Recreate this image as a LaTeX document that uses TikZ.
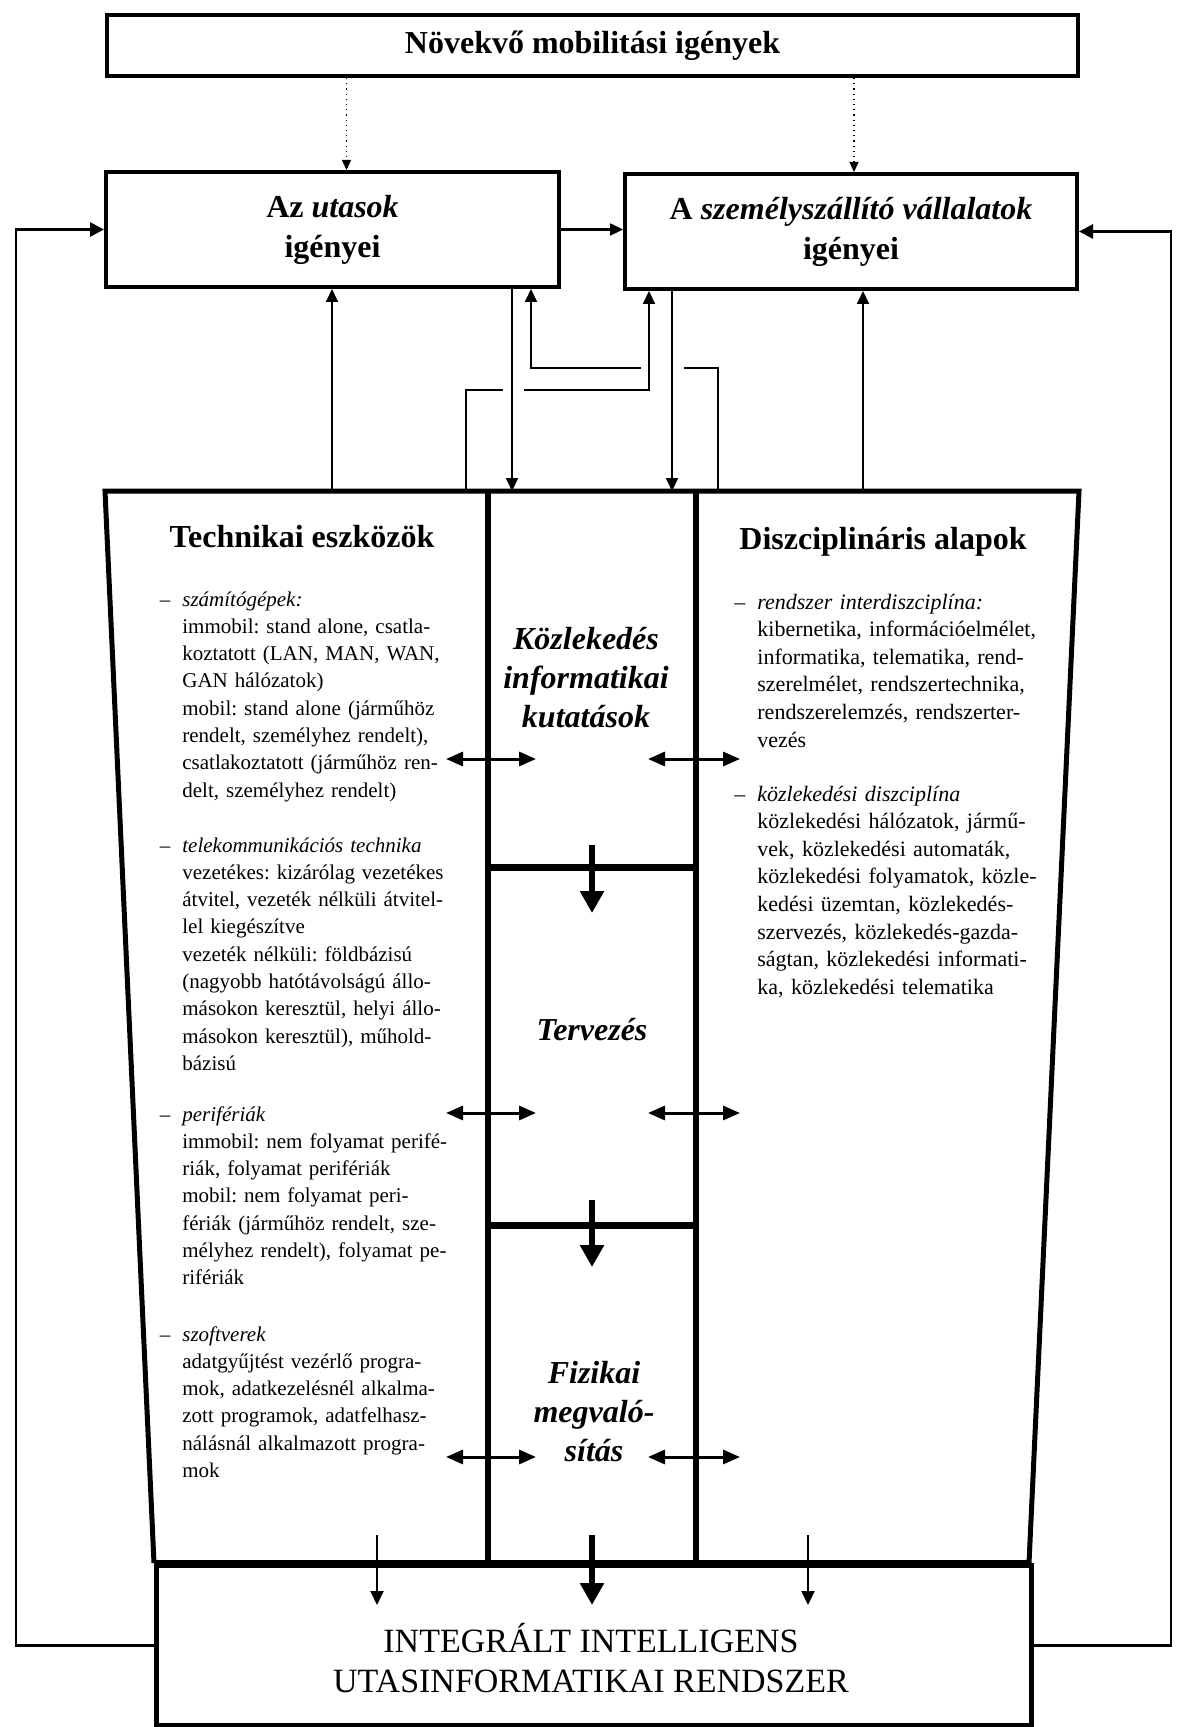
\documentclass[tikz,border=0pt]{standalone}
\usepackage{fontspec}
\setmainfont{Liberation Serif}
\usepackage{tikz}
\usetikzlibrary{arrows.meta,calc}
\frenchspacing

\newcommand{\jline}[1]{\makebox[\linewidth][s]{#1}\\}
\newcommand{\itemdash}{\leavevmode\llap{–\hspace{6pt}}}

\tikzset{
  box/.style={draw,line width=2pt,inner sep=0pt,align=center,font=\fontsize{16}{20}\selectfont\bfseries},
  conn/.style={line width=1pt},
  connarr/.style={line width=1pt,-{Triangle[length=6.5pt,width=6pt]}},
  dotarr/.style={line width=0.6pt,dotted,-{Triangle[length=5pt,width=4.5pt]}},
  fback/.style={line width=1.4pt,-{Triangle[length=7pt,width=7pt]}},
  dblarr/.style={line width=1.5pt,{Triangle[length=8.5pt,width=7pt]}-{Triangle[length=8.5pt,width=7pt]}},
  bigarr/.style={line width=3pt,-{Triangle[length=11pt,width=11.5pt]}},
  thinarr/.style={line width=1pt,-{Triangle[length=7pt,width=6.5pt]}},
  listtext/.style={anchor=base west,inner sep=0pt,align=left,font=\fontsize{10.5}{13.65}\selectfont},
  righttext/.style={listtext,font=\fontsize{11}{13.8}\selectfont},
  heading/.style={font=\fontsize{16}{20}\selectfont\bfseries},
  midtext/.style={align=center,font=\fontsize{16}{19.5}\selectfont\bfseries\itshape},
}

\begin{document}
\begin{tikzpicture}[x=0.5pt,y=-0.5pt]
\useasboundingbox (0,0) rectangle (1178,1727);

% demand boxes
\node[box,minimum width=485.5pt,minimum height=30.5pt,font=\fontsize{16}{19}\selectfont\bfseries] (mobil) at (592.5,45.5) {\raisebox{-1.5pt}{Növekvő mobilitási igények}};
\node[box,minimum width=226.5pt,minimum height=57.5pt] (utasok) at (332.5,229.5) {Az \textit{utasok}\\igényei};
\node[box,minimum width=226pt,minimum height=57.5pt] (vallalat) at (851,231.5) {A \textit{személyszállító vállalatok}\\igényei};

% main frame
\coordinate (tl) at (105,491);
\coordinate (tr) at (1079,491);
\coordinate (br) at (1029,1563);
\coordinate (bl) at (154,1563);
\draw[line width=2.5pt,line join=miter] (bl) -- (tl) -- (tr) -- (br);
\draw[line width=3pt] (488,491) -- (488,1563);
\draw[line width=3pt] (696,491) -- (696,1563);
\draw[line width=3.5pt] (488,867) -- (696,867);
\draw[line width=3.5pt] (488,1225) -- (696,1225);

% result box
\node[draw,line width=2.5pt,minimum width=437.5pt,minimum height=80pt,inner sep=0pt,anchor=north west] (rendszer) at (bl) {};
\draw[line width=3pt] (bl) -- (br);
\node[align=center,font=\fontsize{17}{20}\selectfont] (rendszertxt) at (591,1658) {INTEGRÁLT INTELLIGENS\\UTASINFORMATIKAI RENDSZER};

% headings
\node[heading] (techn) at (302,537) {Technikai eszközök};
\node[heading] (diszc) at (883,542) {Diszciplináris alapok};

% middle column
\node[midtext] (kutat) at (586,678) {Közlekedés\\informatikai\\kutatások};
\node[midtext] (terv) at (592,1030) {Tervezés};
\node[midtext] (fizik) at (594,1412) {Fizikai\\megvaló-\\sítás};

% left column
\node[listtext,text width=132pt] (szamit) at (182,606) {\itemdash\textit{számítógépek:}\\
\jline{immobil: stand alone, csatla-}
\jline{koztatott (LAN, MAN, WAN,}
GAN hálózatok)\\
\jline{mobil: stand alone (járműhöz}
\jline{rendelt, személyhez rendelt),}
\jline{csatlakoztatott (járműhöz ren-}
delt, személyhez rendelt)};
\node[listtext,text width=132pt] (telekom) at (182,852) {\itemdash\textit{telekommunikációs technika}\\
\jline{vezetékes: kizárólag vezetékes}
\jline{átvitel, vezeték nélküli átvitel-}
lel kiegészítve\\
\jline{vezeték nélküli: földbázisú}
\jline{(nagyobb hatótávolságú állo-}
\jline{másokon keresztül, helyi állo-}
\jline{másokon keresztül), műhold-}
bázisú};
\node[listtext,text width=132pt] (perif) at (182,1121) {\itemdash\textit{perifériák}\\
\jline{immobil: nem folyamat perifé-}
riák, folyamat perifériák\\
\jline{mobil: nem folyamat peri-}
\jline{fériák (járműhöz rendelt, sze-}
\jline{mélyhez rendelt), folyamat pe-}
rifériák};
\node[listtext,text width=132pt] (szoftv) at (182,1341) {\itemdash\textit{szoftverek}\\
\jline{adatgyűjtést vezérlő progra-}
\jline{mok, adatkezelésnél alkalma-}
\jline{zott programok, adatfelhasz-}
\jline{nálásnál alkalmazott progra-}
mok};

% right column
\node[righttext,text width=148pt] (rendsz) at (757,609) {\itemdash\textit{rendszer interdiszciplína:}\\
\jline{kibernetika, információelmélet,}
\jline{informatika, telematika, rend-}
\jline{szerelmélet, rendszertechnika,}
\jline{rendszerelemzés, rendszerter-}
vezés};
\node[righttext,text width=142pt] (kozlek) at (757,801) {\itemdash\textit{közlekedési diszciplína}\\
\jline{közlekedési hálózatok, jármű-}
\jline{vek, közlekedési automaták,}
\jline{közlekedési folyamatok, közle-}
\jline{kedési üzemtan, közlekedés-}
\jline{szervezés, közlekedés-gazda-}
\jline{ságtan, közlekedési informati-}
ka, közlekedési telematika};

% dotted demand arrows
\coordinate (d1) at ($(utasok.north)+(14,0)$);
\coordinate (d2) at ($(vallalat.north)+(3,0)$);
\draw[dotarr] (d1 |- mobil.south) -- (d1);
\draw[dotarr] (d2 |- mobil.south) -- (d2);
\draw[connarr,line width=1.2pt] (utasok.east) -- (utasok.east -| vallalat.west);

% links between boxes and frame
\coordinate (ua) at (332,491);
\coordinate (da) at (512,491);
\coordinate (ub) at (718,491);
\coordinate (ubx) at (531,368);
\coordinate (uc) at (466,491);
\coordinate (ucx) at (649,390);
\coordinate (db) at (672,491);
\coordinate (ud) at (863,491);
\draw[connarr] (ua) -- (ua |- utasok.south);
\draw[connarr] (da |- utasok.south) -- (da);
\draw[conn] (ub) -- (718,368) -- (684,368);
\draw[connarr] (641,368) -- (ubx) -- (ubx |- utasok.south);
\draw[conn] (uc) -- (466,390) -- (503,390);
\draw[connarr] (524,390) -- (ucx) -- (ucx |- vallalat.south);
\draw[connarr] (db |- vallalat.south) -- (db);
\draw[connarr] (ud) -- (ud |- vallalat.south);

% feedback loops
\draw[fback] (rendszer.west) -- ++(-138,0) |- (utasok.west);
\draw[fback] (rendszer.east) -- ++(137,0) |- (vallalat.east);

% column arrows
\foreach \y in {759,1113,1457} {
  \draw[dblarr] (446,\y) -- (536,\y);
  \draw[dblarr] (648,\y) -- (740,\y);
}
\draw[bigarr] (592,845) -- (592,913);
\draw[bigarr] (592,1200) -- (592,1267);
\draw[bigarr] (592,1535) -- (592,1605);
\draw[thinarr] (377,1535) -- (377,1605);
\draw[thinarr] (808,1535) -- (808,1605);
\end{tikzpicture}
\end{document}
